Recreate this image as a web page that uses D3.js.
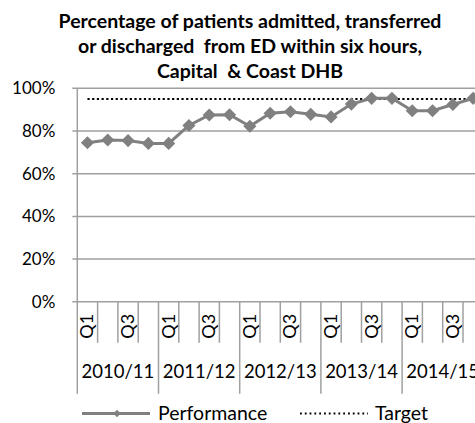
<!DOCTYPE html>
<html>
<head>
<meta charset="utf-8">
<script src="https://cdn.jsdelivr.net/npm/d3@7"></script>
<style>
  body { margin: 0; background: #fff; }
  svg { display: block; font-family: Lato, "Open Sans", sans-serif; }
</style>
</head>
<body>
<div id="vis"></div>
<script>
// chart data
var years = ["2010/11", "2011/12", "2012/13", "2013/14", "2014/15"];
var quarters = ["Q1", "Q2", "Q3", "Q4"];
var performance = [0.745, 0.758, 0.755, 0.742, 0.742, 0.826, 0.875, 0.876, 0.822, 0.883,
                   0.890, 0.878, 0.866, 0.926, 0.953, 0.953, 0.895, 0.895, 0.924, 0.953];
var target = 0.95;
var yTicks = [0, 0.2, 0.4, 0.6, 0.8, 1];
var titleLines = ["Percentage of patients admitted, transferred",
                  "or discharged  from ED within six hours,",
                  "Capital  & Coast DHB"];

var W = 475, H = 423;
var margin = {top: 88.3, left: 77.3, bottom: 121.2};
var step = 20.3;

// one entry per quarter
var cats = [];
years.forEach(function(y) {
    quarters.forEach(function(q) { cats.push({year: y, q: q, key: y + " " + q}); });
});
cats.forEach(function(c, i) { c.value = performance[i]; });

var svg = d3.select("#vis").append("svg")
    .attr("width", W)
    .attr("height", H);

var xScale = d3.scaleBand()
    .domain(cats.map(function(d) { return d.key; }))
    .range([margin.left, margin.left + step * cats.length]);

var yScale = d3.scaleLinear()
    .domain([0, 1])
    .range([H - margin.bottom, margin.top]);

var x0 = xScale.range()[0], x1 = xScale.range()[1];
var grey = "#808080";

// title
svg.append("g").selectAll("text").data(titleLines).enter().append("text")
    .attr("x", 250)
    .attr("y", function(d, i) { return 28 + i * 25; })
    .attr("text-anchor", "middle")
    .attr("font-weight", "bold")
    .attr("font-size", 19.5)
    .attr("fill", "#000")
    .style("white-space", "pre")
    .text(function(d) { return d; });

// gridlines
svg.append("g").selectAll("line").data(yTicks).enter().append("line")
    .attr("x1", x0 - 5).attr("x2", x1)
    .attr("y1", function(d) { return yScale(d); })
    .attr("y2", function(d) { return yScale(d); })
    .attr("stroke", "#a0a0a0")
    .attr("stroke-width", 1.5);

// y axis
var yAxis = d3.axisLeft(yScale)
    .tickValues(yTicks)
    .tickFormat(d3.format(".0%"))
    .tickSize(0)
    .tickPadding(22);
var yg = svg.append("g")
    .attr("transform", "translate(" + x0 + ",0)")
    .call(yAxis);
yg.select(".domain").remove();
yg.selectAll("text")
    .attr("font-family", "Lato, sans-serif")
    .attr("font-size", 17)
    .attr("fill", "#000");
svg.append("line")
    .attr("x1", x0).attr("x2", x0)
    .attr("y1", yScale(1)).attr("y2", yScale(0))
    .attr("stroke", "#a0a0a0").attr("stroke-width", 1.5);

// x axis: short ticks between quarters, long ticks between years
var bounds = d3.range(cats.length + 1);
svg.append("g").selectAll("line").data(bounds).enter().append("line")
    .attr("x1", function(i) { return x0 + i * xScale.step(); })
    .attr("x2", function(i) { return x0 + i * xScale.step(); })
    .attr("y1", yScale(0))
    .attr("y2", function(i) { return i % 4 === 0 ? yScale(0) + 92 : yScale(0) + 41; })
    .attr("stroke", "#a0a0a0")
    .attr("stroke-width", 1.5);

// quarter labels (every other one, like the original)
svg.append("g").selectAll("text")
    .data(cats.filter(function(d, i) { return i % 2 === 0; }))
    .enter().append("text")
    .attr("transform", function(d) {
        return "translate(" + (xScale(d.key) + xScale.bandwidth() / 2 + 6) + "," + (yScale(0) + 12) + ") rotate(-90)";
    })
    .attr("text-anchor", "end")
    .attr("font-size", 18)
    .attr("fill", "#000")
    .text(function(d) { return d.q; });

// year labels (the last one runs past the edge, as in the original)
svg.append("g").selectAll("text").data(years).enter().append("text")
    .attr("x", function(d, i) { return x0 + (i * 4 + 2) * xScale.step(); })
    .attr("y", yScale(0) + 76)
    .attr("text-anchor", "middle")
    .attr("font-size", 18.5)
    .attr("fill", "#000")
    .text(function(d) { return d; });

// target line
var cx = function(d) { return xScale(d.key) + xScale.bandwidth() / 2; };
svg.append("line")
    .attr("x1", cx(cats[0])).attr("x2", cx(cats[cats.length - 1]))
    .attr("y1", yScale(target)).attr("y2", yScale(target))
    .attr("stroke", "#000")
    .attr("stroke-width", 2.2)
    .attr("stroke-dasharray", "2.2 2.5");

// performance line + diamonds
var line = d3.line()
    .x(cx)
    .y(function(d) { return yScale(d.value); });
svg.append("path")
    .datum(cats)
    .attr("d", line)
    .attr("fill", "none")
    .attr("stroke", grey)
    .attr("stroke-width", 3);

var diamond = d3.symbol().type(d3.symbolDiamond2).size(110);
svg.append("g").selectAll("path").data(cats).enter().append("path")
    .attr("transform", function(d) { return "translate(" + cx(d) + "," + yScale(d.value) + ")"; })
    .attr("d", diamond)
    .attr("fill", grey);

// legend
var ly = 413.5;
var leg = svg.append("g");
leg.append("line")
    .attr("x1", 82).attr("x2", 150).attr("y1", ly).attr("y2", ly)
    .attr("stroke", grey).attr("stroke-width", 3);
leg.append("path")
    .attr("transform", "translate(117," + ly + ")")
    .attr("d", d3.symbol().type(d3.symbolDiamond2).size(35))
    .attr("fill", grey);
leg.append("text")
    .attr("x", 158).attr("y", 419.5)
    .attr("font-size", 19.5).attr("fill", "#000")
    .text("Performance");
leg.append("line")
    .attr("x1", 300).attr("x2", 368).attr("y1", ly).attr("y2", ly)
    .attr("stroke", "#000").attr("stroke-width", 2)
    .attr("stroke-dasharray", "1.8 3");
leg.append("text")
    .attr("x", 375).attr("y", 419.5)
    .attr("font-size", 19.5).attr("fill", "#000")
    .text("Target");
</script>
</body>
</html>
